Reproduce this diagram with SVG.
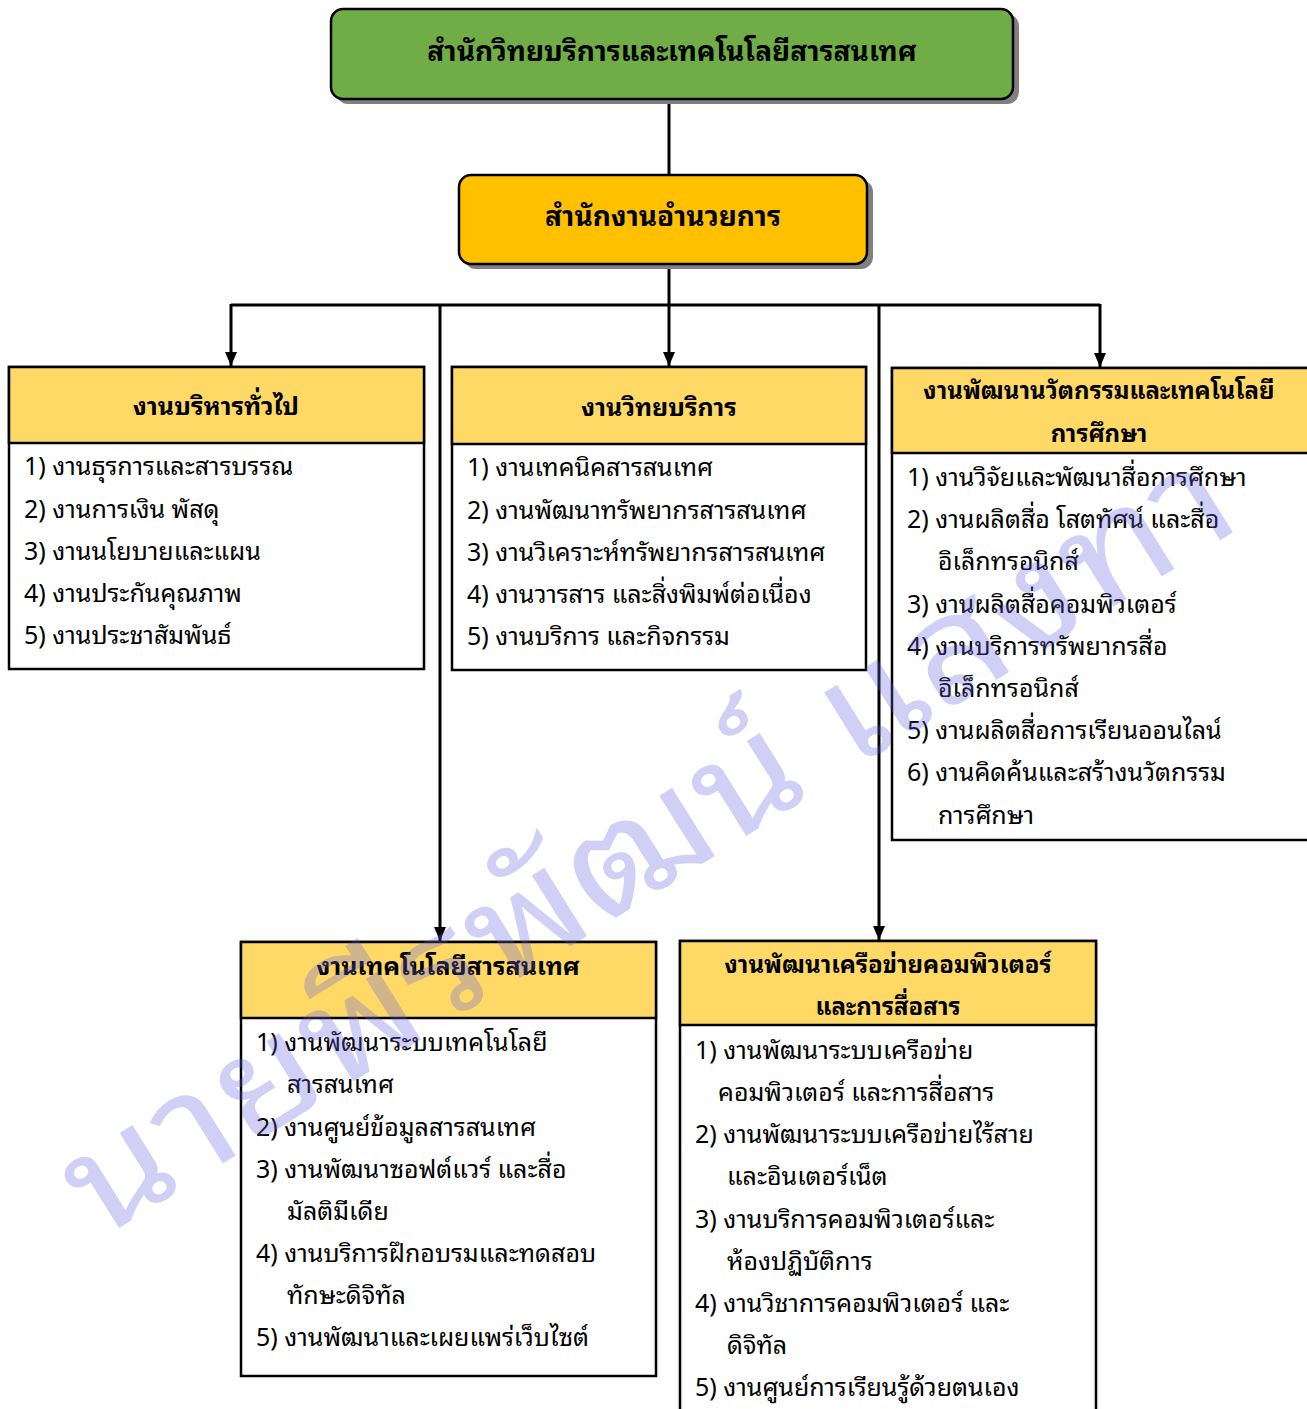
<svg xmlns="http://www.w3.org/2000/svg" width="1307" height="1409" viewBox="0 0 1307 1409">
<style>
text{font-family:"Noto Sans Thai Looped","Noto Serif Thai","Noto Sans Thai","Noto Sans",sans-serif;fill:#000}
.t1{font-size:28px;font-weight:bold;text-anchor:middle}
.h{font-size:25px;font-weight:bold;text-anchor:middle}
.h2{font-size:24px;font-weight:bold;text-anchor:middle}
.i{font-size:25px}
.box{fill:#fff;stroke:#000;stroke-width:2.5}
.hd{fill:#FFD966;stroke:#000;stroke-width:2.5}
.ln{stroke:#000;stroke-width:3;fill:none}
.sh{fill:#808080}
.wm{font-size:145px;fill:#6464e6;fill-opacity:0.3}
</style>
<defs>
<marker id="arr" markerWidth="12" markerHeight="14" refX="6" refY="14" orient="0" markerUnits="userSpaceOnUse" viewBox="0 0 12 14">
<path d="M0,0 L12,0 L6,14 Z" fill="#000"/>
</marker>
</defs>

<g id="connectors">
<line class="ln" x1="669" y1="99" x2="669" y2="175"/>
<line class="ln" x1="669" y1="264" x2="669" y2="305"/>
<line class="ln" x1="231" y1="305" x2="1100" y2="305"/>
<line class="ln" x1="231" y1="304" x2="231" y2="366" marker-end="url(#arr)"/>
<line class="ln" x1="669" y1="305" x2="669" y2="366" marker-end="url(#arr)"/>
<line class="ln" x1="1100" y1="304" x2="1100" y2="367" marker-end="url(#arr)"/>
<line class="ln" x1="440" y1="305" x2="440" y2="941" marker-end="url(#arr)"/>
<line class="ln" x1="879" y1="305" x2="879" y2="940" marker-end="url(#arr)"/>
</g>

<g id="node-main">
<rect class="sh" x="336" y="14" width="683" height="90" rx="12"/>
<rect x="331" y="9" width="682" height="90" rx="12" fill="#70AD47" stroke="#000" stroke-width="2.5"/>
<text class="t1" x="672" y="61">สำนักวิทยบริการและเทคโนโลยีสารสนเทศ</text>
</g>

<g id="node-director">
<rect class="sh" x="464" y="180" width="409" height="89" rx="12"/>
<rect x="459" y="175" width="408" height="89" rx="12" fill="#FFC000" stroke="#000" stroke-width="2.5"/>
<text class="t1" x="663" y="226">สำนักงานอำนวยการ</text>
</g>

<g id="node-admin">
<rect class="box" x="9" y="367" width="415" height="302"/>
<rect class="hd" x="9" y="367" width="415" height="76"/>
<text class="h" x="216" y="415">งานบริหารทั่วไป</text>
<text class="i" x="24" y="475">1) งานธุรการและสารบรรณ</text>
<text class="i" x="24" y="518">2) งานการเงิน พัสดุ</text>
<text class="i" x="24" y="560">3) งานนโยบายและแผน</text>
<text class="i" x="24" y="602">4) งานประกันคุณภาพ</text>
<text class="i" x="24" y="644">5) งานประชาสัมพันธ์</text>
</g>

<g id="node-library">
<rect class="box" x="452" y="367" width="414" height="303"/>
<rect class="hd" x="452" y="367" width="414" height="77"/>
<text class="h" x="659" y="416">งานวิทยบริการ</text>
<text class="i" x="467" y="476">1) งานเทคนิคสารสนเทศ</text>
<text class="i" x="467" y="519">2) งานพัฒนาทรัพยากรสารสนเทศ</text>
<text class="i" x="467" y="561">3) งานวิเคราะห์ทรัพยากรสารสนเทศ</text>
<text class="i" x="467" y="603">4) งานวารสาร และสิ่งพิมพ์ต่อเนื่อง</text>
<text class="i" x="467" y="645">5) งานบริการ และกิจกรรม</text>
</g>

<g id="node-innovation">
<rect class="box" x="892" y="368" width="420" height="472"/>
<rect class="hd" x="892" y="368" width="420" height="85"/>
<text class="h2" x="1099" y="399">งานพัฒนานวัตกรรมและเทคโนโลยี</text>
<text class="h2" x="1099" y="442">การศึกษา</text>
<text class="i" x="907" y="486">1) งานวิจัยและพัฒนาสื่อการศึกษา</text>
<text class="i" x="907" y="528">2) งานผลิตสื่อ โสตทัศน์ และสื่อ</text>
<text class="i" x="938" y="570">อิเล็กทรอนิกส์</text>
<text class="i" x="907" y="613">3) งานผลิตสื่อคอมพิวเตอร์</text>
<text class="i" x="907" y="655">4) งานบริการทรัพยากรสื่อ</text>
<text class="i" x="938" y="697">อิเล็กทรอนิกส์</text>
<text class="i" x="907" y="739">5) งานผลิตสื่อการเรียนออนไลน์</text>
<text class="i" x="907" y="781">6) งานคิดค้นและสร้างนวัตกรรม</text>
<text class="i" x="938" y="824">การศึกษา</text>
</g>

<g id="node-it">
<rect class="box" x="241" y="942" width="415" height="434"/>
<rect class="hd" x="241" y="942" width="415" height="76"/>
<text class="h" x="448" y="975">งานเทคโนโลยีสารสนเทศ</text>
<text class="i" x="256" y="1051">1) งานพัฒนาระบบเทคโนโลยี</text>
<text class="i" x="287" y="1093">สารสนเทศ</text>
<text class="i" x="256" y="1136">2) งานศูนย์ข้อมูลสารสนเทศ</text>
<text class="i" x="256" y="1178">3) งานพัฒนาซอฟต์แวร์ และสื่อ</text>
<text class="i" x="287" y="1220">มัลติมีเดีย</text>
<text class="i" x="256" y="1262">4) งานบริการฝึกอบรมและทดสอบ</text>
<text class="i" x="287" y="1304">ทักษะดิจิทัล</text>
<text class="i" x="256" y="1346">5) งานพัฒนาและเผยแพร่เว็บไซต์</text>
</g>

<g id="node-network">
<rect class="box" x="680" y="941" width="416" height="480"/>
<rect class="hd" x="680" y="941" width="416" height="84"/>
<text class="h2" x="888" y="973">งานพัฒนาเครือข่ายคอมพิวเตอร์</text>
<text class="h2" x="888" y="1015">และการสื่อสาร</text>
<text class="i" x="695" y="1059">1) งานพัฒนาระบบเครือข่าย</text>
<text class="i" x="718" y="1101">คอมพิวเตอร์ และการสื่อสาร</text>
<text class="i" x="695" y="1143">2) งานพัฒนาระบบเครือข่ายไร้สาย</text>
<text class="i" x="727" y="1185">และอินเตอร์เน็ต</text>
<text class="i" x="695" y="1228">3) งานบริการคอมพิวเตอร์และ</text>
<text class="i" x="727" y="1270">ห้องปฏิบัติการ</text>
<text class="i" x="695" y="1312">4) งานวิชาการคอมพิวเตอร์ และ</text>
<text class="i" x="727" y="1354">ดิจิทัล</text>
<text class="i" x="695" y="1396">5) งานศูนย์การเรียนรู้ด้วยตนเอง</text>
</g>

<text class="wm" x="0" y="0" transform="translate(100,1240) rotate(-32)" textLength="1350" lengthAdjust="spacingAndGlyphs">นายพีรพัฒน์ แสงทา</text>
</svg>
